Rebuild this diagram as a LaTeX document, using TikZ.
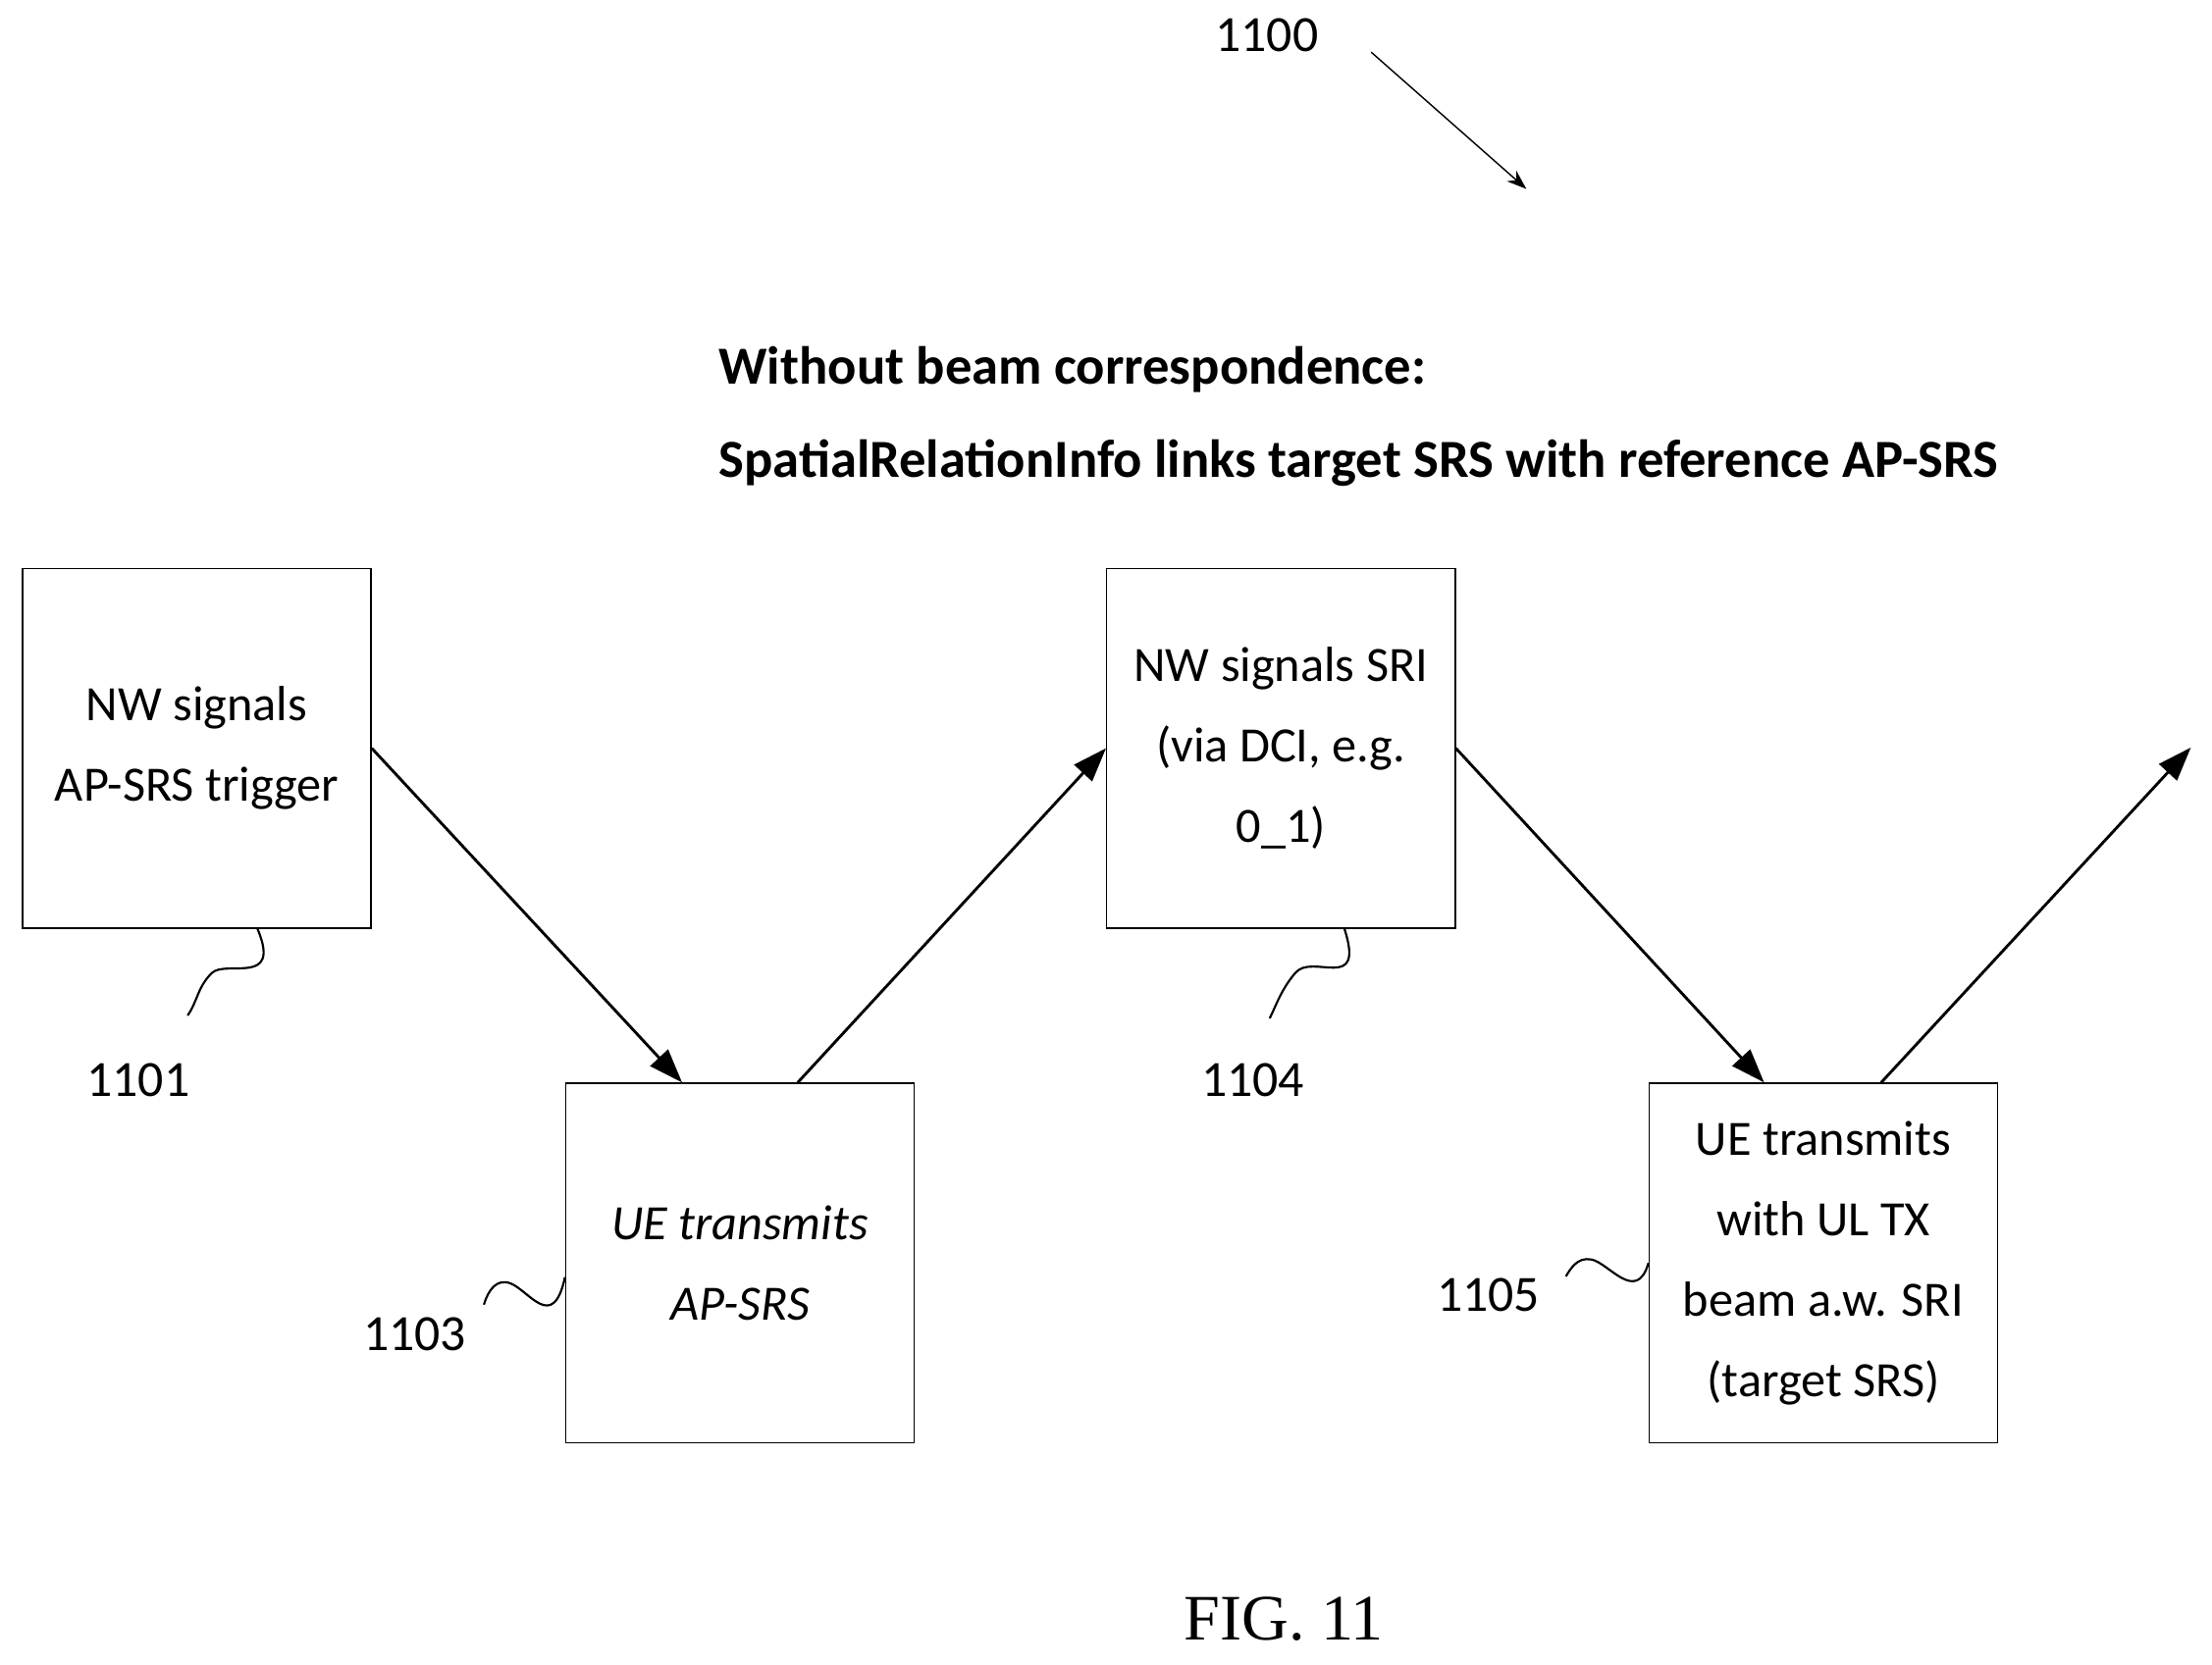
\documentclass[tikz,border=0pt]{standalone}
\usepackage{fontspec}
\setmainfont{Carlito}
\usetikzlibrary{arrows.meta}
\tikzset{
    x={1pt},
    y={-1pt},
    step box/.style={
        draw, line width={1pt},
        minimum width={247}, minimum height={255},
        align=center, inner sep=2pt,
        font={\fontsize{35}{57}\selectfont},
    },
    flow/.style={
        draw, line width={2pt},
        -{Triangle[length=24pt,width=17pt]},
    },
    ref label/.style={
        font={\fontsize{36}{40}\selectfont},
    },
    ref squiggle/.style={
        draw, line width={1.5pt},
    },
}
\begin{document}
\begin{tikzpicture}
\useasboundingbox (0,0) rectangle (1568,1180);
% title
\node[anchor=west, font={\bfseries\fontsize{38}{66}\selectfont}, align=left] (title) at (506,295)
    {Without beam correspondence:\\SpatialRelationInfo links target SRS with reference AP-SRS};
\node[ref label] (fignum) at (898,25) {1100};
\coordinate (fignum tip) at (1082,134);
\draw[line width={1pt}, -{Stealth[length=14pt,width=10pt]}] (972,37) -- (fignum tip);
% steps
\node[step box] (s1101) at (139.5,530.5) {NW signals\\AP-SRS trigger};
\node[step box, font={\itshape\fontsize{35}{57}\selectfont}] (s1103) at (524.5,895.5) {UE transmits\\AP-SRS};
\node[step box] (s1104) at (908,530.5) {NW signals SRI\\(via DCI, e.g.\\0\_1)};
\node[step box] (s1105) at (1292.5,895.5) {UE transmits\\with UL TX\\beam a.w. SRI\\(target SRS)};
\coordinate (out) at (1553,530);
% arrows
\draw[flow] (s1101.east) -- ([xshift=-41]s1103.north);
\draw[flow] ([xshift=41]s1103.north) -- (s1104.west);
\draw[flow] (s1104.east) -- ([xshift=-42]s1105.north);
\draw[flow] ([xshift=41]s1105.north) -- (out);
% reference numerals
\node[ref label] (l1101) at (98,766) {1101};
\node[ref label] (l1103) at (294,946) {1103};
\node[ref label] (l1104) at (888,766) {1104};
\node[ref label] (l1105) at (1055,918) {1105};
\draw[ref squiggle] ([xshift=43]s1101.south) .. controls (200,700) and (160,680) .. (150,690) .. controls (140,700) and (140,710) .. (133,720);
\draw[ref squiggle] ([xshift=45]s1104.south) .. controls (968,705) and (930,675) .. (918,690) .. controls (908,702) and (905,712) .. (900,722);
\draw[ref squiggle] ([yshift=-10]s1103.west) .. controls (392,945) and (375,915) .. (362,910) .. controls (352,906) and (346,915) .. (343,925);
\draw[ref squiggle] (s1105.west) .. controls (1160,925) and (1140,895) .. (1128,893) .. controls (1118,891) and (1113,900) .. (1110,905);
% caption
\node[font={\fontspec{Liberation Serif}\fontsize{46}{50}\selectfont}] (caption) at (910,1148) {FIG. 11};
\end{tikzpicture}
\end{document}
